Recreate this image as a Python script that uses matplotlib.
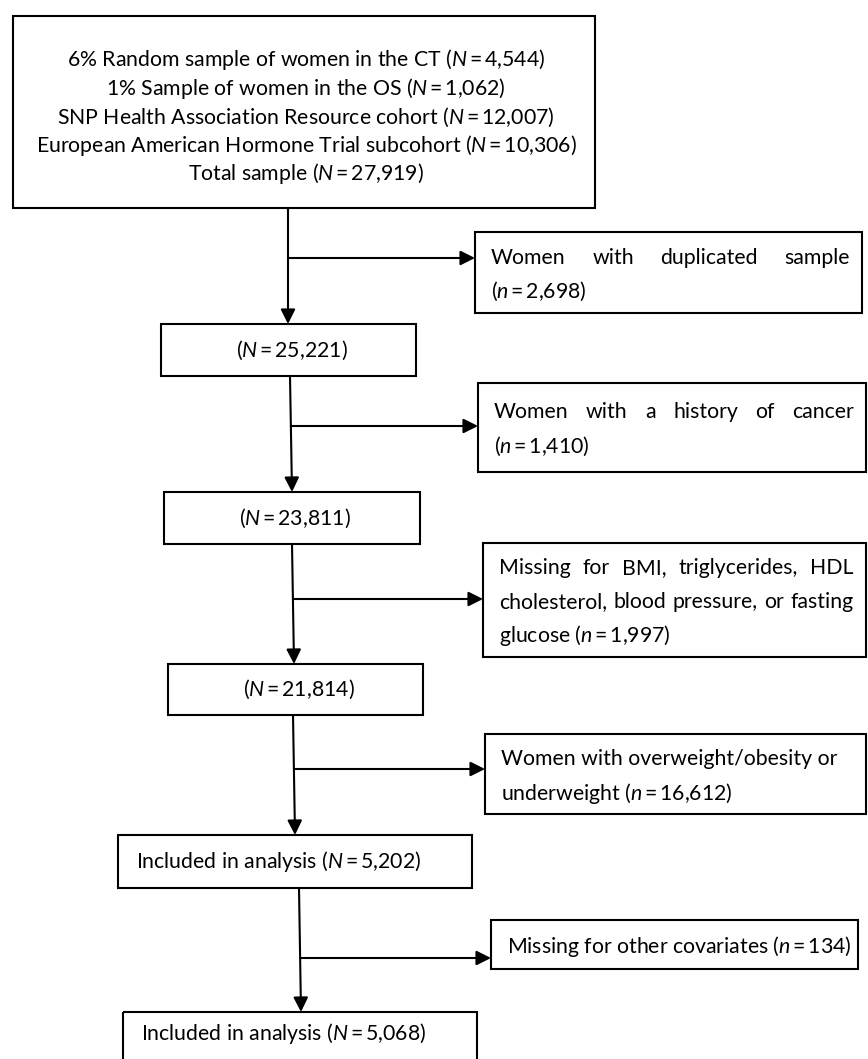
import matplotlib
matplotlib.use('Agg')
import matplotlib.pyplot as plt
from matplotlib.patches import Rectangle

plt.rcParams['font.family'] = ['Lato', 'DejaVu Sans']
plt.rcParams['mathtext.fontset'] = 'custom'
plt.rcParams['mathtext.rm'] = 'Lato'
plt.rcParams['mathtext.it'] = 'Lato:italic'

# --- data -----------------------------------------------------------------
source_labels = ["6% Random sample of women in the CT",
                 "1% Sample of women in the OS",
                 "SNP Health Association Resource cohort",
                 "European American Hormone Trial subcohort",
                 "Total sample"]
source_N = [4544, 1062, 12007, 10306, 27919]

stage_N = [25221, 23811, 21814, 5202, 5068]
stage_labels = ["", "", "", "Included in analysis", "Included in analysis"]

excluded_labels = ["Women with duplicated sample\n",
                   "Women with a history of cancer\n",
                   "Missing for BMI, triglycerides, HDL\ncholesterol, blood pressure, or fasting\nglucose ",
                   "Women with overweight/obesity or\nunderweight ",
                   "Missing for other covariates "]
excluded_n = [2698, 1410, 1997, 16612, 134]
justify = [True, True, True, False, False]

# --- layout (pixels, y downwards) ----------------------------------------
top_box = (13, 16, 595, 208)
stage_boxes = [(161, 324, 416, 376), (164, 492, 420, 544),
               (168, 664, 423, 715), (118, 835, 472, 888),
               (123, 1012, 477, 1075)]
stage_align = ['center', 'center', 'center', 'left', 'left']
side_boxes = [(475, 232, 862, 313), (478, 383, 866, 472),
              (483, 543, 866, 657), (485, 734, 866, 814),
              (491, 920, 858, 969)]
side_arrow_y = [258, 426, 599, 769, 958]
# vertical connector x at start and end of each step
trunk_x = [(288, 288), (290, 292), (292, 294), (293, 295), (299, 301)]
fs = 15.3
W, H = 868, 1059

fig = plt.figure(figsize=(W / 100, H / 100), dpi=100)
ax = fig.add_axes([0, 0, 1, 1])
ax.set_xlim(0, W)
ax.set_ylim(H, 0)
ax.axis('off')
renderer = fig.canvas.get_renderer()


def fmt(letter, v):
    return "($%s\\,$=$\\,$%s)" % (letter, f"{v:,}")


def box(b):
    x0, y0, x1, y1 = b
    ax.add_patch(Rectangle((x0, y0), x1 - x0, y1 - y0, fill=False,
                           edgecolor='black', lw=1.5, zorder=2))


def arrow(x0, y0, x1, y1):
    ax.annotate('', xy=(x1, y1), xytext=(x0, y0),
                arrowprops=dict(arrowstyle='-|>', color='black', lw=1.5,
                                mutation_scale=22, shrinkA=0, shrinkB=0))


def draw_lines(x0, x1, y_first, spacing, lines, just):
    for i, line in enumerate(lines):
        y = y_first + i * spacing
        words = line.split(' ')
        if just and i < len(lines) - 1 and len(words) > 1:
            texts = [ax.text(0, y, w, va='center', ha='left', fontsize=fs)
                     for w in words]
            widths = [t.get_window_extent(renderer).width for t in texts]
            gap = (x1 - x0 - sum(widths)) / (len(words) - 1)
            x = x0
            for t, w in zip(texts, widths):
                t.set_x(x)
                x += w + gap
        else:
            ax.text(x0, y, line, va='center', ha='left', fontsize=fs)


# top box
box(top_box)
cx = (top_box[0] + top_box[2]) / 2 + 2
for i, (lab, n) in enumerate(zip(source_labels, source_N)):
    ax.text(cx, 60 + i * 28.5, lab + " " + fmt('N', n), ha='center',
            va='center', fontsize=fs)

# trunk and stage boxes
prev_bottom = top_box[3]
for i, b in enumerate(stage_boxes):
    xs, xe = trunk_x[i]
    arrow(xs, prev_bottom, xe, b[1])
    # side branch
    frac = (side_arrow_y[i] - prev_bottom) / (b[1] - prev_bottom)
    bx = xs + (xe - xs) * frac
    arrow(bx, side_arrow_y[i], side_boxes[i][0], side_arrow_y[i])
    box(b)
    label = fmt('N', stage_N[i])
    if stage_labels[i]:
        label = stage_labels[i] + " " + label
    ty = (b[1] + b[3]) / 2 if i < 4 else 1033
    if stage_align[i] == 'center':
        ax.text((b[0] + b[2]) / 2 + 3, ty, label, ha='center', va='center',
                fontsize=fs)
    else:
        ax.text(b[0] + 18, ty, label, ha='left', va='center', fontsize=fs)
    prev_bottom = b[3]

# exclusion boxes
for i, b in enumerate(side_boxes):
    box(b)
    text = excluded_labels[i] + fmt('n', excluded_n[i])
    lines = text.split('\n')
    n_lines = len(lines)
    spacing = 34
    mid = (b[1] + b[3]) / 2 + 2
    y_first = mid - spacing * (n_lines - 1) / 2
    draw_lines(b[0] + 16, b[2] - 12, y_first, spacing, lines, justify[i])

fig.savefig('out.png', dpi=100)
